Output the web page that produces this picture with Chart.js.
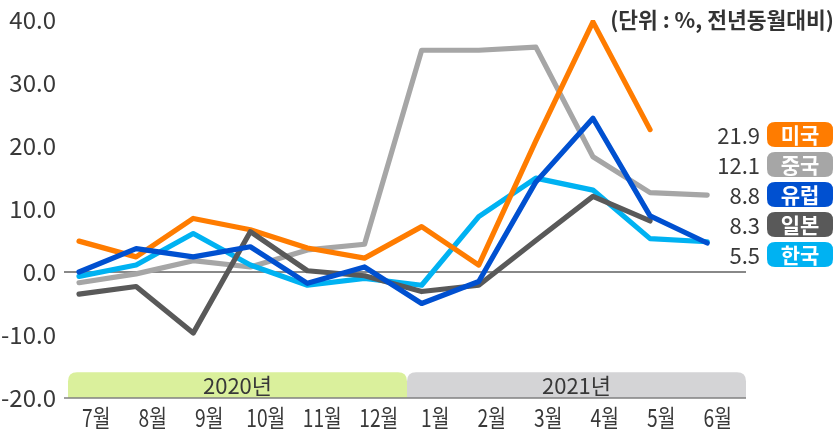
<!DOCTYPE html>
<html><head><meta charset="utf-8">
<script src="https://cdn.jsdelivr.net/npm/chart.js@4/dist/chart.umd.min.js"></script>
<style>html,body{margin:0;padding:0;background:#fff;} #wrap{width:836px;height:434px;position:relative;}</style>
</head><body><div id="wrap"><canvas id="c" width="836" height="434"></canvas></div>
<script>
const months = ['7월','8월','9월','10월','11월','12월','1월','2월','3월','4월','5월','6월'];
const years = ['2020년','2021년'];
const yearStart = [0, 6];
const yearEnd = [5, 11];
const seriesNames = ['미국','중국','유럽','일본','한국'];
const usa    = [4.9, 2.4, 8.5, 6.7, 3.8, 2.2, 7.2, 1.1, 20.8, 39.7, 22.6, null];
const china  = [-1.7, -0.3, 1.8, 0.8, 3.5, 4.4, 35.2, 35.2, 35.7, 18.3, 12.6, 12.2];
const europe = [0.0, 3.7, 2.4, 4.0, -1.8, 0.8, -5.0, -1.5, 14.3, 24.4, 8.9, 4.6];
const japan  = [-3.5, -2.3, -9.7, 6.4, 0.2, -0.6, -3.1, -2.1, 5.0, 12.0, 8.1, null];
const korea  = [-0.7, 1.1, 6.1, 1.1, -2.1, -1.0, -2.1, 8.8, 14.9, 13.0, 5.3, 4.8];
const latestLabels = ['21.9','12.1','8.8','8.3','5.5'];
const unitText = '(단위 : %, 전년동월대비)';

const FONT = "'Noto Sans CJK KR', 'Noto Sans', sans-serif";
const TXT = '#383838';
const colors = ['#FF7C00','#A6A6A6','#0050D0','#595959','#00B2F2'];
const yearColors = ['#DAF09C','#D4D4D6'];
const seriesData = [usa, china, europe, japan, korea];
const drawOrder = [3, 5, 1, 2, 4];

function pts(arr){ const o=[]; arr.forEach((v,i)=>{ if(v!==null) o.push({x:i,y:v}); }); return o; }

const datasets = seriesNames.map((n,i)=>({
  label:n, data:pts(seriesData[i]), xAxisID:'xd', yAxisID:'y',
  borderColor:colors[i], backgroundColor:colors[i], borderWidth:5.2,
  pointRadius:0, tension:0, borderCapStyle:'round', borderJoinStyle:'round',
  order:drawOrder[i], fill:false
}));

function roundTopRect(ctx,x,y,w,h,r){
  ctx.beginPath();
  ctx.moveTo(x,y+h); ctx.lineTo(x,y+r); ctx.quadraticCurveTo(x,y,x+r,y);
  ctx.lineTo(x+w-r,y); ctx.quadraticCurveTo(x+w,y,x+w,y+r); ctx.lineTo(x+w,y+h); ctx.closePath();
}
function roundRect(ctx,x,y,w,h,r){
  ctx.beginPath();
  ctx.moveTo(x+r,y); ctx.lineTo(x+w-r,y); ctx.quadraticCurveTo(x+w,y,x+w,y+r);
  ctx.lineTo(x+w,y+h-r); ctx.quadraticCurveTo(x+w,y+h,x+w-r,y+h);
  ctx.lineTo(x+r,y+h); ctx.quadraticCurveTo(x,y+h,x,y+h-r);
  ctx.lineTo(x,y+r); ctx.quadraticCurveTo(x,y,x+r,y); ctx.closePath();
}

const decor = {
  id:'decor',
  beforeDatasetsDraw(chart){
    const ctx=chart.ctx, xs=chart.scales.x, ys=chart.scales.y;
    const half = (xs.getPixelForValue(1)-xs.getPixelForValue(0))/2;
    const top = ys.getPixelForValue(-15.9), bot = ys.getPixelForValue(-20);
    ctx.save();
    years.forEach((yr,k)=>{
      const x0 = xs.getPixelForValue(yearStart[k])-half;
      const x1 = xs.getPixelForValue(yearEnd[k])+half;
      ctx.fillStyle=yearColors[k];
      roundTopRect(ctx,x0,top,x1-x0,bot-top,9); ctx.fill();
      ctx.fillStyle=TXT; ctx.font='22px '+FONT;
      ctx.textAlign='center'; ctx.textBaseline='middle';
      ctx.fillText(yr,(x0+x1)/2,(top+bot)/2+1);
    });
    ctx.lineWidth=1.5;
    [[0,'#606060'],[-20,'#808080']].forEach(([v,c])=>{
      const y=ys.getPixelForValue(v);
      ctx.strokeStyle=c; ctx.beginPath(); ctx.moveTo(chart.chartArea.left-4,y); ctx.lineTo(chart.chartArea.right,y); ctx.stroke();
    });
    ctx.restore();
  },
  afterDraw(chart){
    const ctx=chart.ctx, xs=chart.scales.x;
    ctx.save();
    ctx.fillStyle=TXT; ctx.font='24px '+FONT; ctx.textAlign='center'; ctx.textBaseline='middle';
    xs.ticks.forEach((t,i)=>{
      const x=xs.getPixelForTick(i);
      ctx.save(); ctx.translate(x,418); ctx.scale(0.8,1);
      ctx.fillText(xs.getLabelForValue(t.value),0,0); ctx.restore();
    });
    ctx.fillStyle='#333'; ctx.font='bold 21.5px '+FONT; ctx.textAlign='right'; ctx.textBaseline='middle';
    ctx.fillText(unitText,834,20);
    seriesNames.forEach((n,i)=>{
      const cy=134.5+i*30;
      ctx.fillStyle=colors[i];
      roundRect(ctx,767,cy-12.5,66,25,8); ctx.fill();
      ctx.fillStyle='#fff'; ctx.font='bold 21px '+FONT; ctx.textAlign='center';
      ctx.fillText(n,800,cy+1);
      ctx.fillStyle=TXT; ctx.font='22px '+FONT; ctx.textAlign='right';
      ctx.fillText(latestLabels[i],760,cy+1);
    });
    ctx.restore();
  }
};

new Chart(document.getElementById('c'),{
  type:'line',
  data:{labels:months, datasets},
  plugins:[decor],
  options:{
    responsive:false, animation:false,
    layout:{padding:{top:20,right:90,left:0,bottom:0}},
    plugins:{legend:{display:false},tooltip:{enabled:false}},
    scales:{
      x:{type:'category', labels:months, offset:true, position:'bottom',
         grid:{display:false}, border:{display:false},
         ticks:{display:false},
         afterFit(s){ s.height=36; }},
      xd:{type:'linear', display:false, min:-0.193, max:11.68},
      y:{min:-20,max:40, border:{display:false},
         grid:{display:false},
         ticks:{stepSize:10, color:TXT, font:{family:FONT,size:24}, padding:4,
                callback:v=>v.toFixed(1)},
         afterFit(s){ s.width=68; }}
    }
  }
});
</script></body></html>
